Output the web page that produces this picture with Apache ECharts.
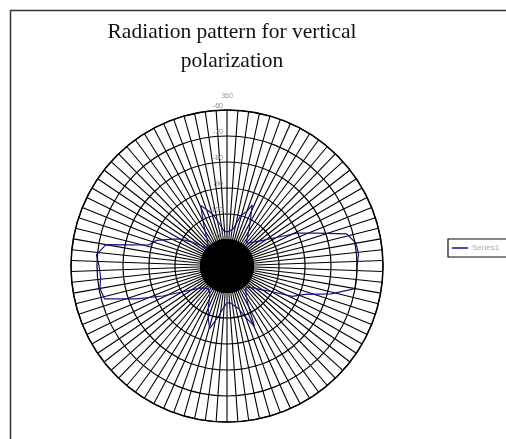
<!DOCTYPE html>
<html>
<head>
<meta charset="utf-8">
<script src="https://cdn.jsdelivr.net/npm/echarts@6/dist/echarts.min.js"></script>
<style>
  html, body { margin: 0; padding: 0; background: #fff; }
  #chart { width: 506px; height: 439px; }
</style>
</head>
<body>
<div id="chart"></div>
<script>
// Measured received level (dBm) against azimuth (degrees, clockwise from north)
const azimuthDeg = [
  0, 5, 10, 15, 20, 22.5, 25, 30, 35, 40, 45, 50, 55, 60, 65, 70, 75, 80, 85, 90,
  95, 100, 105, 110, 115, 120, 125, 130, 135, 140, 145, 150, 155.5, 160, 165, 170, 175, 180,
  185, 190, 195.5, 200, 205, 210, 215, 220, 225, 230, 235, 240, 245, 250, 255, 260, 265, 270,
  275, 280, 285, 290, 295, 300, 305, 310, 315, 320, 325, 330, 336.5, 340, 345, 350, 355, 360
];
const levelDbm = [
  -106.9, -106.5, -105.4, -100.0, -97.7, -94.6, -98.1, -102.7, -106.2, -108.5, -107.3, -105.4, -102.7, -98.1, -90.0, -83.1, -72.3, -69.6, -69.2, -70.0,
  -70.0, -70.0, -78.5, -88.1, -92.3, -100.4, -104.2, -106.9, -108.5, -108.8, -107.3, -104.6, -94.6, -98.8, -103.1, -104.6, -105.8, -105.8,
  -103.8, -100.0, -95.0, -98.8, -103.1, -106.9, -108.1, -108.8, -108.8, -106.9, -104.2, -100.0, -92.7, -83.1, -71.2, -70.4, -71.2, -70.8,
  -69.6, -72.7, -88.8, -91.2, -95.8, -99.2, -104.2, -108.8, -109.6, -108.5, -106.2, -102.3, -94.6, -96.9, -99.6, -103.5, -106.5, -106.9
];
const seriesName = 'Series1';
const titleLines = ['Radiation pattern for vertical', 'polarization'];
const levelMin = -120, levelMax = -60, levelStep = 10;
const northLabel = '360';

const chart = echarts.init(document.getElementById('chart'), null, { renderer: 'canvas' });

const points = azimuthDeg.map((a, i) => [levelDbm[i], a]);

const center = [227, 266];

chart.setOption({
  backgroundColor: '#ffffff',
  animation: false,
  title: {
    text: titleLines.join('\n'),
    left: 227,
    textAlign: 'center',
    top: 13,
    textStyle: {
      fontFamily: 'Liberation Serif',
      fontWeight: 'normal',
      fontSize: 21.5,
      lineHeight: 29,
      color: '#111'
    }
  },
  legend: {
    left: 448,
    top: 239,
    orient: 'vertical',
    padding: [5, 20, 5, 4],
    itemGap: 2,
    itemWidth: 16,
    itemHeight: 2,
    icon: 'rect',
    borderColor: '#111',
    borderWidth: 1.2,
    borderRadius: 0,
    textStyle: { fontSize: 8, color: '#aaa', fontFamily: 'Liberation Sans', padding: [0, 0, 0, -1] },
    data: [seriesName]
  },
  graphic: [{
    type: 'rect',
    shape: { x: 10.5, y: 10.5, width: 700, height: 700 },
    style: { fill: 'none', stroke: '#333', lineWidth: 1.5 },
    z: 100,
    silent: true
  }],
  polar: [
    { center: center, radius: 156 },
    { center: center, radius: 27 }
  ],
  angleAxis: [
    {
      polarIndex: 0,
      type: 'value',
      min: 0,
      max: 360,
      interval: 4,
      startAngle: 90,
      clockwise: true,
      axisLine: { show: true, lineStyle: { color: '#000', width: 1.4 } },
      axisTick: { show: false },
      axisLabel: {
        show: true,
        fontSize: 7,
        color: '#999',
        margin: 10,
        formatter: v => (v === 0 ? northLabel : '')
      },
      splitLine: { show: true, lineStyle: { color: '#000', width: 1.1 } }
    },
    {
      polarIndex: 1,
      type: 'value',
      min: 0,
      max: 360,
      interval: 1,
      startAngle: 90,
      clockwise: true,
      axisLine: { show: false },
      axisTick: { show: false },
      axisLabel: { show: false },
      splitLine: { show: true, lineStyle: { color: '#000', width: 1 } },
      silent: true
    }
  ],
  radiusAxis: [
    {
      polarIndex: 0,
      type: 'value',
      min: levelMin,
      max: levelMax,
      interval: levelStep,
      axisLine: { show: false },
      axisTick: { show: false },
      axisLabel: {
        show: true,
        fontSize: 7,
        color: '#888',
        showMinLabel: false,
        margin: 4,
        verticalAlign: 'bottom'
      },
      splitLine: { show: true, lineStyle: { color: '#000', width: 1.2 } },
      z: 20
    },
    {
      polarIndex: 1,
      type: 'value',
      min: 0,
      max: 1,
      axisLine: { show: false },
      axisTick: { show: false },
      axisLabel: { show: false },
      splitLine: { show: false }
    }
  ],
  series: [{
    name: seriesName,
    type: 'line',
    coordinateSystem: 'polar',
    polarIndex: 0,
    data: points,
    showSymbol: false,
    symbol: 'none',
    smooth: false,
    lineStyle: { color: '#14148a', width: 1.2 },
    itemStyle: { color: '#4a4ab8' },
    z: 10
  }]
});
</script>
</body>
</html>
